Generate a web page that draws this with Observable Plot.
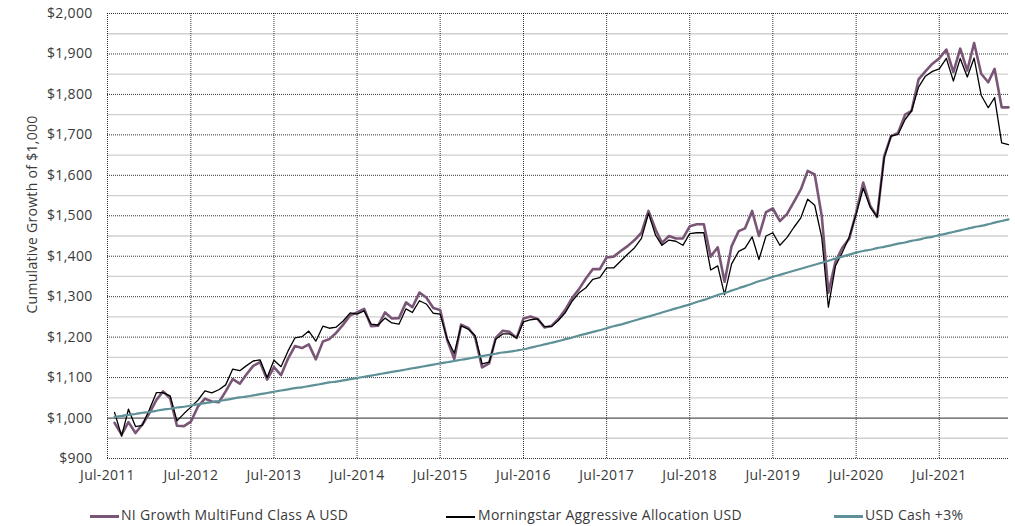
<!DOCTYPE html>
<html>
<head>
<meta charset="utf-8">
<script src="https://cdn.jsdelivr.net/npm/d3@7"></script>
<script src="https://cdn.jsdelivr.net/npm/@observablehq/plot@0.6"></script>
<style>
  html, body { margin: 0; padding: 0; background: #fff; }
  #wrap { position: relative; width: 1015px; height: 526px; font-family: "Open Sans", sans-serif; color: #3a3a3a; }
  .lg-line { position: absolute; height: 3px; width: 29px; top: 515px; }
  .lg-text { position: absolute; top: 505px; font-size: 14px; letter-spacing: 0.3px; color: #3a3a3a; white-space: nowrap; }
  svg text { letter-spacing: 0.3px; }
</style>
</head>
<body>
<div id="wrap">
  <div id="chart"></div>
  <div class="lg-line" style="left:90px;background:#7a5676;"></div>
  <div class="lg-text" style="left:121px;">NI Growth MultiFund Class A USD</div>
  <div class="lg-line" style="left:446px;background:#000;height:2px;top:516px;"></div>
  <div class="lg-text" style="left:478px;">Morningstar Aggressive Allocation USD</div>
  <div class="lg-line" style="left:834px;background:#5e9197;"></div>
  <div class="lg-text" style="left:865px;">USD Cash +3%</div>
</div>
<script>
// Monthly values, Aug-2011 .. May-2022 (130 months)
const fund = [
  988, 959, 990, 963, 984, 1012, 1045, 1066, 1049, 981, 980, 991,
  1028, 1048, 1041, 1039, 1066, 1096, 1085, 1107, 1129, 1138, 1095, 1126,
  1106, 1147, 1178, 1173, 1182, 1145, 1189, 1195, 1211, 1231, 1254, 1261,
  1270, 1227, 1228, 1261, 1246, 1247, 1286, 1274, 1310, 1298, 1272, 1267,
  1193, 1146, 1231, 1223, 1201, 1125, 1135, 1198, 1216, 1213, 1198, 1246,
  1251, 1245, 1224, 1228, 1245, 1268, 1298, 1318, 1345, 1368, 1368, 1397,
  1399, 1413, 1425, 1440, 1458, 1512, 1466, 1433, 1450, 1444, 1444, 1474,
  1479, 1479, 1399, 1422, 1337, 1425, 1462, 1469, 1512, 1450, 1509, 1518,
  1487, 1504, 1534, 1565, 1611, 1602, 1499, 1310, 1386, 1421, 1444, 1508,
  1582, 1524, 1497, 1647, 1697, 1705, 1750, 1759, 1837, 1857, 1876, 1889,
  1911, 1855, 1913, 1859, 1927, 1851, 1830, 1863, 1768, 1768
];
const benchmark = [
  1014, 955, 1022, 979, 982, 1021, 1063, 1063, 1055, 993, 1011, 1027,
  1044, 1067, 1062, 1070, 1082, 1121, 1117, 1129, 1141, 1144, 1100, 1143,
  1127, 1166, 1198, 1201, 1215, 1190, 1227, 1222, 1225, 1240, 1260, 1257,
  1265, 1232, 1230, 1247, 1235, 1232, 1270, 1261, 1290, 1282, 1259, 1257,
  1195, 1160, 1228, 1220, 1204, 1134, 1138, 1195, 1208, 1208, 1198, 1238,
  1243, 1245, 1226, 1226, 1241, 1261, 1290, 1309, 1322, 1343, 1347, 1371,
  1371, 1388, 1405, 1421, 1444, 1506, 1452, 1427, 1440, 1437, 1427, 1456,
  1458, 1458, 1366, 1376, 1305, 1381, 1412, 1420, 1448, 1392, 1450, 1458,
  1427, 1446, 1471, 1495, 1541, 1526, 1446, 1274, 1376, 1409, 1448, 1504,
  1568, 1521, 1497, 1643, 1697, 1701, 1738, 1759, 1818, 1845, 1857, 1863,
  1889, 1833, 1889, 1843, 1890, 1798, 1767, 1792, 1680, 1676
];
const cash = [
  1003, 1005, 1008, 1010, 1013, 1015, 1018, 1021, 1023, 1026, 1028, 1031,
  1034, 1037, 1039, 1042, 1045, 1048, 1051, 1053, 1056, 1059, 1062, 1065,
  1068, 1071, 1074, 1076, 1079, 1082, 1085, 1088, 1090, 1093, 1096, 1099,
  1102, 1105, 1108, 1111, 1114, 1117, 1120, 1123, 1126, 1129, 1132, 1135,
  1138, 1141, 1144, 1147, 1150, 1153, 1156, 1159, 1162, 1164, 1167, 1170,
  1174, 1178, 1182, 1186, 1190, 1195, 1199, 1204, 1208, 1213, 1217, 1222,
  1227, 1231, 1236, 1241, 1246, 1251, 1256, 1261, 1266, 1271, 1276, 1281,
  1287, 1292, 1298, 1304, 1309, 1315, 1321, 1326, 1332, 1338, 1343, 1349,
  1354, 1359, 1364, 1369, 1374, 1379, 1384, 1389, 1394, 1399, 1404, 1409,
  1413, 1416, 1420, 1423, 1427, 1431, 1434, 1438, 1441, 1445, 1448, 1452,
  1456, 1460, 1464, 1468, 1472, 1475, 1479, 1483, 1487, 1491
];
const xTickLabels = ["Jul-2011","Jul-2012","Jul-2013","Jul-2014","Jul-2015","Jul-2016","Jul-2017","Jul-2018","Jul-2019","Jul-2020","Jul-2021"];
const yMajor = [900, 1000, 1100, 1200, 1300, 1400, 1500, 1600, 1700, 1800, 1900, 2000];
const yMinor = [950, 1050, 1150, 1250, 1350, 1450, 1550, 1650, 1750, 1850, 1950];
const yTitle = "Cumulative Growth of $1,000";

const dates = fund.map((_, i) => new Date(Date.UTC(2011, 7 + i, 1)));
const xTicks = xTickLabels.map(s => new Date(Date.UTC(+s.slice(4), 6, 1)));
const toRows = (vals) => vals.map((v, i) => ({date: dates[i], value: v}));

const font = '"Open Sans", sans-serif';
const txt = "#3a3a3a";
const chart = Plot.plot({
  width: 1015,
  height: 492,
  marginLeft: 107,
  marginRight: 7,
  marginTop: 13,
  marginBottom: 34,
  style: {fontFamily: font, fontSize: "14px", color: txt, background: "#fff"},
  x: {type: "utc", domain: [new Date(Date.UTC(2011, 6, 1)), new Date(Date.UTC(2022, 4, 1))]},
  y: {domain: [900, 2000]},
  marks: [
    Plot.ruleY(yMinor, {stroke: "#cfcfcf", strokeWidth: 1.3}),
    Plot.ruleY(yMajor.filter(d => d !== 1000), {stroke: "#000", strokeWidth: 0.8, strokeDasharray: "1,1"}),
    Plot.ruleX(xTicks, {stroke: "#000", strokeWidth: 0.8, strokeDasharray: "1,1"}),
    Plot.ruleY([1000], {stroke: "#555", strokeWidth: 1.2}),
    Plot.axisX(xTicks, {tickSize: 0, tickPadding: 12, tickFormat: (d, i) => xTickLabels[i], fill: txt, fontSize: 14, label: null}),
    Plot.axisY(yMajor, {tickSize: 0, tickPadding: 15, tickFormat: d => "$" + d3.format(",")(d), fill: txt, fontSize: 14, label: null}),
    Plot.text([yTitle], {frameAnchor: "top-left", dx: -80, dy: 201, rotate: -90, textAnchor: "middle", fill: txt, fontSize: 14}),
    Plot.lineY(toRows(fund), {x: "date", y: "value", stroke: "#7a5676", strokeWidth: 2.6}),
    Plot.lineY(toRows(benchmark), {x: "date", y: "value", stroke: "#000", strokeWidth: 1.3}),
    Plot.lineY(toRows(cash), {x: "date", y: "value", stroke: "#5e9197", strokeWidth: 2.2, curve: "monotone-x"})
  ]
});
document.getElementById("chart").appendChild(chart);
</script>
</body>
</html>
